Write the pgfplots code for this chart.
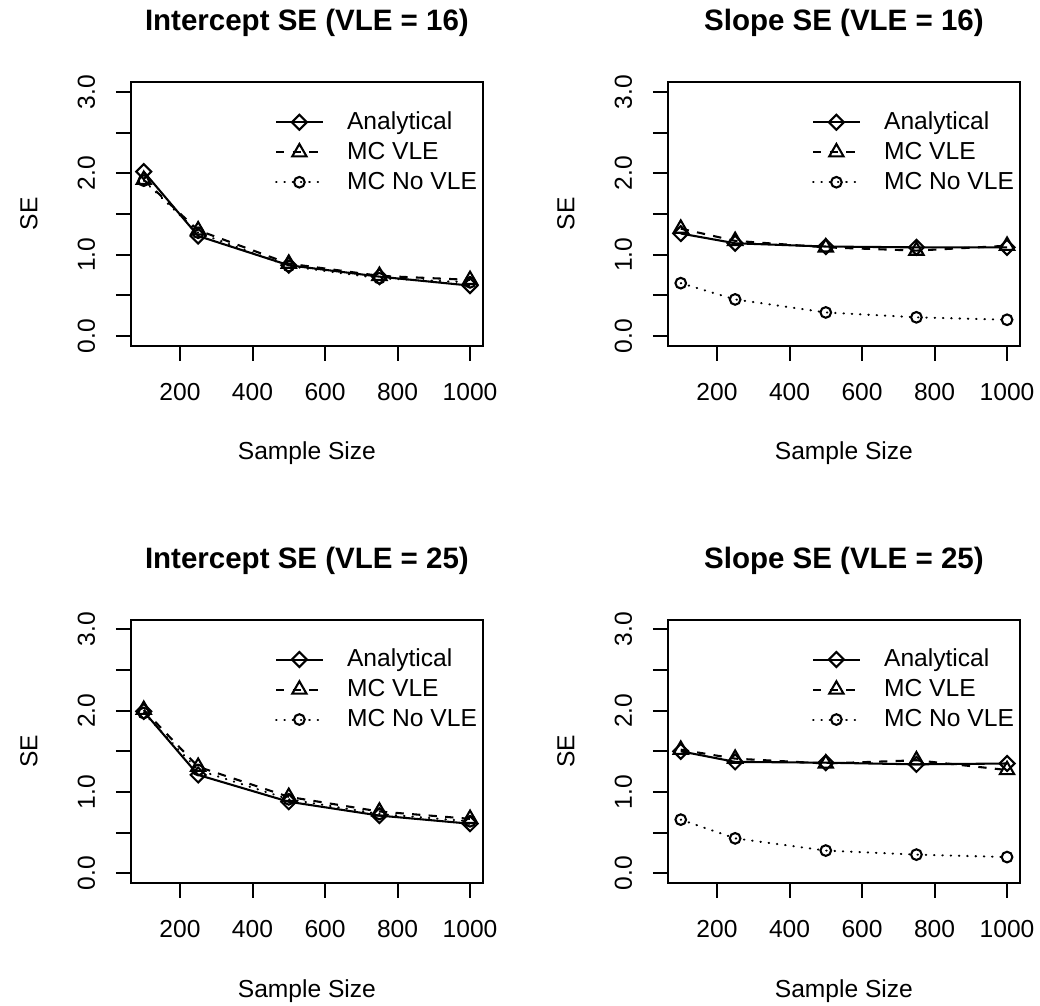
\documentclass[border=0pt]{standalone}
\usepackage{fontspec}
\setmainfont{Liberation Sans}
\usepackage{pgfplots}
\pgfplotsset{compat=1.18}

% R-style hollow symbols (pch 5 and pch 2)
\pgfdeclareplotmark{rdiamond}{%
  \pgfpathmoveto{\pgfqpoint{0pt}{7.5pt}}%
  \pgfpathlineto{\pgfqpoint{7.5pt}{0pt}}%
  \pgfpathlineto{\pgfqpoint{0pt}{-7.5pt}}%
  \pgfpathlineto{\pgfqpoint{-7.5pt}{0pt}}%
  \pgfpathclose\pgfusepathqstroke}
\pgfdeclareplotmark{rtriangle}{%
  \pgfpathmoveto{\pgfqpoint{0pt}{8.26pt}}%
  \pgfpathlineto{\pgfqpoint{7.14pt}{-4.13pt}}%
  \pgfpathlineto{\pgfqpoint{-7.14pt}{-4.13pt}}%
  \pgfpathclose\pgfusepathqstroke}

\newcommand\rfont{\fontsize{24.6}{29.5}\selectfont}

\pgfplotsset{
  rpanel/.style={
    scale only axis, width=352.4pt, height=263.6pt, anchor=south west,
    xmin=64, xmax=1036, ymin=-0.12, ymax=3.12,
    xtick={200,400,600,800,1000}, xticklabels={200,400,600,800,1000},
    ytick={0,0.5,1,1.5,2,2.5,3}, yticklabels={0.0,,1.0,,2.0,,3.0},
    tick pos=left, tick align=outside, major tick length=14.8pt,
    every tick/.style={black, line width=2pt},
    axis line style={line width=2pt},
    /pgf/number format/assume math mode=true,
    tick label style={font=\rfont},
    xticklabel style={anchor=base}, xticklabel shift=39.5pt,
    yticklabel style={rotate=90, anchor=base}, yticklabel shift=21pt,
    label style={font=\rfont},
    xlabel={Sample Size}, ylabel={SE},
    xlabel style={at={(axis description cs:0.5,-0.433)}, anchor=base},
    ylabel style={at={(axis description cs:-0.265,0.5)}, anchor=base},
    title style={at={(axis description cs:0.5,1.1715)}, anchor=base,
      font=\bfseries\fontsize{29.5}{35}\selectfont},
    clip mode=individual,
    legend cell align=left,
    legend style={draw=none, fill=none, font=\rfont,
      at={(axis description cs:0.4095,0.905)}, anchor=north west,
      inner sep=0pt, outer sep=0pt, row sep=0pt,
      nodes={inner sep=0pt, text height=22.1pt, text depth=7.9pt},
      /tikz/every odd column/.append style={column sep=23.3pt}},
    legend image code/.code={
      \draw[mark repeat=2, mark phase=2, #1]
        plot coordinates {(0pt,0pt) (23.35pt,0pt) (46.7pt,0pt)};},
  },
  ana/.style={black, line width=2.08pt, mark=rdiamond, mark options={solid}},
  mcv/.style={black, line width=2.08pt, dash pattern=on 8.3pt off 8.3pt,
    mark=rtriangle, mark options={solid}},
  mcn/.style={black, line width=2.08pt, line cap=round,
    dash pattern=on 0.5pt off 7.8pt, mark=o, mark size=5.33pt,
    mark options={solid}},
}

\begin{document}
\begin{tikzpicture}
\path[use as bounding box] (0,0) rectangle (1040pt,1005pt);

% top left
\begin{axis}[rpanel, at={(130.7pt,659.2pt)}, title={Intercept SE (VLE = 16)}]
\addplot[ana] coordinates {(100,2.02)(250,1.23)(500,0.87)(750,0.73)(1000,0.62)};
\addlegendentry{Analytical}
\addplot[mcv] coordinates {(100,1.92)(250,1.30)(500,0.89)(750,0.74)(1000,0.69)};
\addlegendentry{MC VLE}
\addplot[mcn] coordinates {(100,1.91)(250,1.27)(500,0.86)(750,0.71)(1000,0.66)};
\addlegendentry{MC No VLE}
\end{axis}

% top right
\begin{axis}[rpanel, at={(667.7pt,659.2pt)}, title={Slope SE (VLE = 16)}]
\addplot[ana] coordinates {(100,1.26)(250,1.14)(500,1.10)(750,1.09)(1000,1.09)};
\addlegendentry{Analytical}
\addplot[mcv] coordinates {(100,1.32)(250,1.17)(500,1.09)(750,1.05)(1000,1.11)};
\addlegendentry{MC VLE}
\addplot[mcn] coordinates {(100,0.65)(250,0.45)(500,0.29)(750,0.23)(1000,0.20)};
\addlegendentry{MC No VLE}
\end{axis}

% bottom left
\begin{axis}[rpanel, at={(130.7pt,121.9pt)}, title={Intercept SE (VLE = 25)}]
\addplot[ana] coordinates {(100,1.99)(250,1.21)(500,0.88)(750,0.71)(1000,0.61)};
\addlegendentry{Analytical}
\addplot[mcv] coordinates {(100,2.01)(250,1.31)(500,0.94)(750,0.76)(1000,0.67)};
\addlegendentry{MC VLE}
\addplot[mcn] coordinates {(100,1.97)(250,1.27)(500,0.91)(750,0.73)(1000,0.64)};
\addlegendentry{MC No VLE}
\end{axis}

% bottom right
\begin{axis}[rpanel, at={(667.7pt,121.9pt)}, title={Slope SE (VLE = 25)}]
\addplot[ana] coordinates {(100,1.50)(250,1.37)(500,1.36)(750,1.34)(1000,1.35)};
\addlegendentry{Analytical}
\addplot[mcv] coordinates {(100,1.52)(250,1.41)(500,1.35)(750,1.39)(1000,1.27)};
\addlegendentry{MC VLE}
\addplot[mcn] coordinates {(100,0.66)(250,0.43)(500,0.28)(750,0.23)(1000,0.20)};
\addlegendentry{MC No VLE}
\end{axis}
\end{tikzpicture}
\end{document}
